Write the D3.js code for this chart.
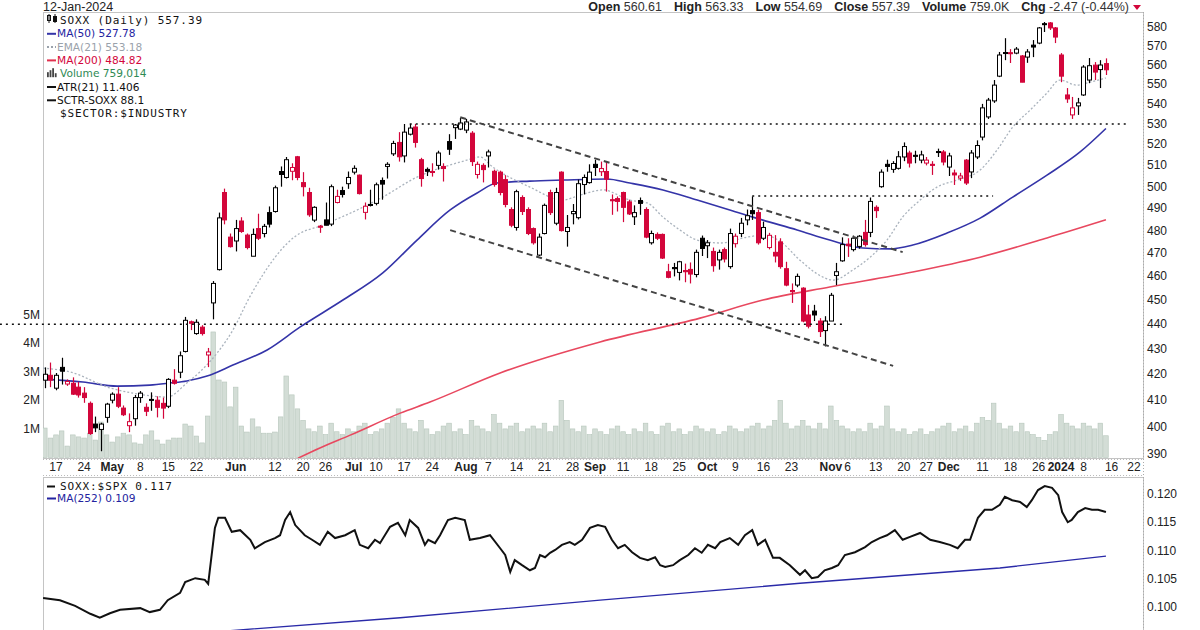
<!DOCTYPE html>
<html>
<head>
<meta charset="utf-8">
<script src="https://cdn.jsdelivr.net/npm/d3@7/dist/d3.min.js"></script>
<style>
body { margin: 0; background: #fff; }
svg { display: block; font-family: "Liberation Sans", Arial, sans-serif; }
.leg { font-family: "DejaVu Sans", Verdana, sans-serif; font-size: 10.6px; }
.mono { font-family: "DejaVu Sans Mono", monospace; font-size: 11px; letter-spacing: 0.9px; }
</style>
</head>
<body>
<svg id="chart" width="1200" height="630"></svg>
<script>
// SOXX daily candles, 13-Apr-2023 .. 12-Jan-2024 (one entry per trading day)
var opens = [417.7,419.6,414.6,422.7,416.2,416.5,415.0,412.7,408.8,401.0,399.0,403.5,
410.0,412.3,407.0,400.4,403.0,411.0,407.3,410.3,410.0,408.8,407.7,417.7,
420.8,429.0,441.0,436.2,438.8,427.6,448.8,462.9,497.3,477.1,475.4,484.3,
478.0,468.7,480.9,478.7,488.1,488.6,507.1,504.3,507.2,514.1,501.9,497.3,
484.7,482.0,484.8,482.9,492.7,498.2,501.4,506.8,505.4,488.2,491.8,492.3,
502.9,509.5,515.5,521.0,514.5,525.0,528.5,512.7,508.1,507.1,510.0,509.5,
521.4,528.2,527.5,527.0,525.5,505.7,510.0,514.5,507.2,506.8,503.3,489.5,
481.4,495.0,489.5,480.9,469.2,478.7,497.3,483.3,506.8,479.6,487.6,485.8,
501.0,501.9,510.5,507.0,507.1,494.0,494.5,497.3,493.0,486.2,493.6,489.5,
474.6,478.3,478.3,462.0,463.8,461.7,462.5,463.0,460.8,476.6,473.3,470.8,
467.1,471.6,464.2,474.2,478.7,484.8,489.0,488.1,476.6,472.5,470.4,475.0,
463.3,454.0,456.3,455.0,443.8,445.4,441.3,437.4,441.3,460.4,466.7,474.0,
471.6,473.0,479.2,479.2,490.5,500.0,510.5,508.1,508.6,514.0,515.9,514.8,
512.5,511.1,510.5,516.6,516.4,509.2,506.4,504.0,512.5,506.9,514.0,523.6,
533.5,541.5,554.1,566.4,566.3,566.1,564.6,564.0,570.3,571.4,581.8,582.2,
579.5,565.1,544.5,534.5,539.0,544.5,552.1,559.8,557.5,560.61];
var highs = [422.7,424.6,420.5,426.5,418.0,418.8,417.0,415.0,409.5,403.8,401.5,409.0,
413.0,415.0,408.0,405.0,412.0,413.5,408.8,413.0,411.5,411.0,418.5,422.0,
429.0,443.0,441.5,442.0,439.6,430.4,458.0,488.1,499.1,478.7,484.8,486.0,
478.7,480.9,487.6,483.0,490.9,500.5,509.5,514.0,511.0,514.5,506.8,499.5,
491.0,482.5,492.7,501.0,498.6,500.0,507.1,510.0,505.7,492.7,498.6,501.9,
504.3,511.5,521.8,526.0,530.0,530.0,530.0,513.6,509.0,511.0,517.0,511.0,
525.0,530.0,533.0,532.5,526.5,511.8,511.0,517.5,508.0,507.5,505.4,490.5,
498.6,496.0,490.5,481.4,478.7,492.2,498.6,499.5,507.2,487.0,492.0,503.3,
505.7,510.5,512.7,511.8,511.8,496.4,495.5,497.7,494.0,491.4,495.0,490.5,
480.0,479.2,478.7,465.4,465.8,466.7,465.5,466.0,471.6,477.8,475.8,472.5,
471.6,472.5,480.9,478.7,485.7,489.5,495.5,489.5,484.0,479.0,478.0,476.6,
466.3,457.0,461.2,455.4,448.0,448.0,442.5,443.3,453.0,465.8,477.0,476.6,
477.8,478.0,484.8,495.0,491.4,508.1,512.7,512.0,516.8,521.0,517.0,517.0,
517.0,514.0,512.0,518.0,517.3,516.0,508.0,506.5,513.0,517.3,522.0,540.0,
543.0,552.1,566.7,574.0,568.2,569.3,565.1,568.2,573.0,580.0,582.7,582.7,
580.0,566.1,548.0,543.5,543.0,559.8,563.5,561.4,562.4,563.33];
var lows = [414.6,415.0,413.8,416.0,415.5,412.0,411.0,409.0,397.0,398.0,391.0,401.5,
408.8,407.0,404.0,398.0,400.4,409.0,404.0,406.0,403.5,403.0,407.0,416.0,
418.5,428.6,437.6,435.7,435.4,422.8,442.0,462.5,482.8,472.5,470.8,479.0,
471.7,468.7,475.8,477.0,481.4,488.1,500.0,503.8,503.0,503.0,495.5,486.2,
483.8,479.0,482.4,482.0,492.3,495.0,499.0,505.7,496.4,485.0,490.9,491.4,
494.0,503.8,514.5,511.8,511.4,524.4,518.5,500.0,505.0,504.7,508.0,502.4,
515.0,522.7,527.0,525.5,509.7,503.8,502.0,509.0,500.0,496.0,490.5,481.5,
480.0,487.0,478.0,473.8,468.8,478.3,487.0,482.4,479.6,472.9,482.8,485.0,
496.4,501.4,505.0,505.0,497.7,487.1,488.6,483.8,487.0,482.5,487.1,476.6,
473.8,475.8,467.5,459.2,460.0,458.3,457.5,457.0,459.6,468.8,467.9,462.0,
462.9,466.0,463.3,472.5,477.1,482.4,484.8,473.8,475.8,471.7,466.0,463.3,
455.8,448.8,455.4,440.8,438.3,441.3,434.8,431.0,441.3,456.3,466.3,468.4,
470.8,472.0,472.9,477.1,485.7,499.5,507.0,506.5,508.0,512.0,509.0,511.0,
511.0,510.0,505.5,514.0,510.0,505.0,500.8,502.7,500.8,504.0,513.0,522.0,
532.5,540.5,553.6,562.4,560.9,565.5,551.0,561.0,564.0,570.8,577.3,578.4,
571.4,551.0,540.5,532.5,534.5,544.0,550.5,552.1,548.0,554.69];
var closes = [420.0,417.7,419.6,421.2,417.2,412.3,412.0,411.0,397.5,399.6,401.0,408.5,
412.3,407.7,404.5,401.9,411.0,412.7,405.8,410.0,407.3,407.0,418.0,416.5,
427.3,441.6,440.4,440.8,436.2,428.8,457.0,485.7,484.8,472.9,480.9,479.6,
472.5,478.3,476.6,481.9,482.9,499.5,505.7,512.7,509.0,504.3,500.0,487.1,
490.5,481.5,482.4,500.0,495.5,496.4,504.3,508.6,496.8,491.0,491.4,500.9,
501.2,510.5,520.5,514.1,526.0,528.0,521.0,503.8,507.2,506.9,515.9,508.5,
517.7,529.5,530.5,531.0,511.8,510.5,508.0,516.4,501.0,497.3,491.8,482.4,
497.7,488.6,478.7,474.6,477.1,491.4,488.1,497.3,480.0,481.4,488.6,501.4,
504.3,506.8,509.0,508.5,503.5,493.5,493.2,490.5,487.5,488.1,492.3,477.1,
478.7,476.6,467.9,459.6,463.3,466.3,462.0,461.0,470.4,472.1,474.6,464.6,
470.4,467.5,478.7,477.5,483.3,486.7,487.6,474.6,481.4,477.9,468.8,464.2,
456.3,453.5,460.0,441.3,439.2,443.8,437.0,441.3,452.0,462.0,473.8,473.3,
476.6,477.5,473.8,493.2,489.0,506.8,509.5,510.9,514.1,519.0,511.1,514.3,
515.0,512.5,510.0,516.2,511.6,514.5,505.5,505.0,501.7,515.9,519.5,538.0,
541.9,549.5,565.1,566.1,565.8,568.2,551.0,566.7,569.3,579.5,581.5,579.5,
574.6,554.1,542.5,538.0,540.5,558.8,559.5,556.2,559.86,557.39];
// volume in millions
var volumes = [1.03,0.68,0.79,0.93,0.40,0.79,0.72,0.68,0.85,0.61,1.24,0.79,0.54,0.72,0.85,0.79,
0.51,0.47,0.79,0.93,0.61,0.47,0.61,0.68,0.68,1.17,1.10,0.75,0.51,1.45,4.39,
2.71,2.64,1.77,2.46,1.10,0.89,1.35,1.07,0.85,0.85,0.89,1.42,2.85,2.19,1.70,
1.3,1.0,0.9,1.1,0.8,1.2,0.9,0.8,1.0,0.9,1.1,1.2,0.8,0.9,1.0,1.2,
1.4,1.7,1.2,1.0,0.9,1.3,1.0,0.8,0.9,1.1,1.2,0.9,1.0,0.8,1.3,1.1,
1.0,0.9,1.5,1.2,1.0,1.1,1.2,0.9,1.0,1.1,1.0,1.2,0.9,1.1,2.0,1.3,
1.0,0.9,1.1,0.8,1.0,0.9,0.8,1.0,1.1,0.9,0.8,1.0,0.9,1.2,0.9,0.8,
1.1,1.2,0.9,1.0,0.8,0.9,1.1,1.0,0.9,1.0,0.8,0.9,1.1,1.0,0.9,1.0,
1.1,1.2,1.0,1.1,1.3,2.0,1.2,1.0,1.1,1.3,1.1,1.0,1.2,1.0,1.8,1.3,
1.1,1.0,0.9,1.0,0.9,1.2,1.0,1.1,1.8,1.0,0.9,1.0,0.8,0.9,1.0,0.8,
0.9,1.0,1.1,1.2,0.9,1.0,1.1,0.9,1.2,1.4,1.3,1.9,1.2,1.0,1.1,0.9,
1.2,0.9,0.8,0.7,0.6,0.8,0.9,1.5,1.2,1.1,1.0,1.2,1.1,1.0,1.2,0.76];

// overlays: [day index, value]
var ma50 = [[-0.3,418.1],[6.8,417.0],[12.9,415.4],[18.7,415.8],[22.3,416.6],[25.3,417.4],[28.9,419.3],[33.5,423.6],[39.6,429.6],[45.5,438.9],[53.1,450.0],[60.2,461.5],[66.3,475.8],[72.2,489.3],[77.0,497.1],[80.5,501.7],[86.4,502.6],[92.3,503.1],[100.1,503.6],[104.2,501.7],[110.1,498.5],[116.2,493.8],[122.0,489.3],[127.9,484.7],[134.0,480.3],[139.8,475.8],[145.7,472.3],[150.5,471.9],[154.6,473.6],[160.7,478.9],[166.6,485.6],[172.4,495.2],[178.5,505.4],[184.4,516.4],[189,527.78]];
var ema21 = [[-0.3,422.4],[4.5,420.9],[11.6,414.7],[15.7,412.7],[21.8,411.2],[25.3,416.6],[27.6,420.9],[30.7,428.4],[33.5,437.6],[36.5,451.3],[45.5,478.9],[48.5,481.6],[56.7,490.6],[60.2,495.2],[66.3,504.5],[72.2,510.2],[75.2,512.5],[77.5,514.0],[79.8,509.2],[86.4,499.8],[92.3,493.8],[95.3,496.1],[99.4,498.5],[104.2,493.8],[107.3,492.5],[110.1,486.1],[113.1,480.3],[116.2,475.8],[120.3,474.5],[125.1,477.1],[127.9,478.0],[130.9,475.4],[134.5,467.0],[138.6,459.7],[140.4,458.4],[143.9,462.7],[147.0,468.3],[150.0,475.8],[152.8,486.1],[155.9,493.8],[158.9,499.8],[162.5,503.1],[166.6,507.8],[169.6,517.3],[172.4,528.5],[175.5,536.9],[178.5,545.5],[180.8,552.1],[183.8,549.5],[186.1,551.0],[189,553.18]];
var ma200 = [[45.1,388.5],[49.0,392.2],[54.4,396.9],[63.3,405.1],[68.6,409.3],[81.1,420.5],[98.9,432.8],[116.7,442.5],[127.9,450.0],[139.8,455.5],[154.6,461.9],[166.6,468.3],[178.5,476.7],[189,484.82]];
var ratio = [[-0.3,0.1016],[2.7,0.1012],[5.4,0.1002],[8.1,0.0988],[9.8,0.0981],[11.6,0.0989],[13.4,0.0995],[17.0,0.0998],[18.7,0.0991],[20.5,0.0995],[21.9,0.1012],[24.1,0.1025],[25.0,0.1044],[26.8,0.1051],[28.5,0.1048],[29.1,0.1041],[30.3,0.1140],[30.9,0.1158],[32.1,0.1158],[33.3,0.1133],[34.8,0.1136],[36.6,0.1119],[37.4,0.1104],[39.2,0.1115],[41.0,0.1122],[41.9,0.1127],[42.8,0.1154],[43.7,0.1168],[44.6,0.1145],[46.3,0.1127],[47.6,0.1119],[49.0,0.1110],[50.4,0.1133],[51.7,0.1122],[53.5,0.1127],[55.2,0.1136],[56.1,0.1110],[57.6,0.1104],[58.8,0.1119],[59.7,0.1113],[61.5,0.1142],[62.9,0.1149],[64.2,0.1127],[65.0,0.1154],[66.5,0.1140],[67.7,0.1110],[68.3,0.1119],[69.5,0.1113],[70.4,0.1127],[71.8,0.1154],[73.1,0.1158],[74.8,0.1154],[75.7,0.1119],[77.5,0.1122],[79.3,0.1127],[81.1,0.1104],[82.0,0.1092],[82.9,0.1062],[83.7,0.1083],[85.0,0.1074],[86.4,0.1065],[87.3,0.1069],[88.2,0.1092],[89.1,0.1088],[90.0,0.1096],[90.9,0.1101],[92.1,0.1110],[93.5,0.1115],[94.4,0.1110],[95.7,0.1119],[97.1,0.1140],[98.5,0.1145],[99.8,0.1142],[101.0,0.1119],[102.1,0.1104],[103.3,0.1110],[104.6,0.1097],[106.0,0.1087],[107.4,0.1083],[108.7,0.1088],[109.6,0.1074],[110.5,0.1071],[111.9,0.1074],[113.1,0.1083],[114.6,0.1092],[115.8,0.1104],[117.0,0.1096],[118.1,0.1110],[119.4,0.1104],[120.3,0.1115],[122.0,0.1122],[123.5,0.1110],[124.7,0.1127],[126.0,0.1136],[127.0,0.1110],[128.3,0.1119],[129.7,0.1087],[130.9,0.1087],[132.7,0.1074],[134.5,0.1057],[135.4,0.1065],[136.6,0.1051],[137.7,0.1053],[138.9,0.1065],[140.2,0.1069],[141.3,0.1074],[142.5,0.1092],[144.3,0.1097],[146.1,0.1106],[147.3,0.1115],[148.7,0.1122],[150.0,0.1127],[151.4,0.1136],[152.8,0.1119],[154.1,0.1124],[155.9,0.1131],[157.7,0.1119],[159.4,0.1115],[161.2,0.1110],[162.6,0.1104],[163.9,0.1119],[164.8,0.1119],[166.2,0.1158],[167.4,0.1172],[168.7,0.1172],[170.1,0.1181],[171.0,0.1195],[172.3,0.1189],[173.7,0.1186],[174.9,0.1177],[175.8,0.1189],[176.9,0.1207],[178.1,0.1214],[179.4,0.1211],[180.5,0.1198],[181.2,0.1168],[182.2,0.1150],[182.9,0.1154],[184.0,0.1168],[185.3,0.1175],[186.5,0.1172],[187.6,0.1172],[189,0.1168]];
var ratioMa = [[27.6,0.0954],[63.3,0.0981],[98.9,0.1012],[134.5,0.1042],[170.1,0.1069],[189,0.1090]];

// hand-drawn annotations
var levelLines = [[[-8, 440], [142.2, 440]], [[65, 530], [192.7, 530]], [[126, 495.7], [168.9, 495.7]]];
var channelLines = [[[74, 533.3], [152.8, 470.5]], [[72.2, 480.2], [151.1, 423.3]]];

var priceTicks = [390,400,410,420,430,440,450,460,470,480,490,500,510,520,530,540,550,560,570,580];
var volTicks = [1,2,3,4,5];
var ratioTicks = [0.100,0.105,0.110,0.115,0.120];
var holidays = ["2023-05-29","2023-06-19","2023-07-04","2023-09-04","2023-11-23","2023-12-25","2024-01-01","2024-01-15"];
var tickDates = ["2023-04-17","2023-04-24","2023-05-01","2023-05-08","2023-05-15","2023-05-22","2023-06-01","2023-06-12","2023-06-20","2023-06-26","2023-07-03","2023-07-10","2023-07-17","2023-07-24","2023-08-01","2023-08-07","2023-08-14","2023-08-21","2023-08-28","2023-09-01","2023-09-11","2023-09-18","2023-09-25","2023-10-02","2023-10-09","2023-10-16","2023-10-23","2023-11-01","2023-11-06","2023-11-13","2023-11-20","2023-11-27","2023-12-01","2023-12-11","2023-12-18","2023-12-26","2024-01-02","2024-01-08","2024-01-16","2024-01-22"];
var tickLabels = ["17","24","May","8","15","22","Jun","12","20","26","Jul","10","17","24","Aug","7","14","21","28","Sep","11","18","25","Oct","9","16","23","Nov","6","13","20","27","Dec","11","18","26","2024","8","16","22"];

// trading calendar for the x axis
var days = [];
for (var d = new Date(Date.UTC(2023, 3, 13)); d <= new Date(Date.UTC(2024, 0, 22)); d.setUTCDate(d.getUTCDate() + 1)) {
    var s = d.toISOString().slice(0, 10);
    if (d.getUTCDay() > 0 && d.getUTCDay() < 6 && holidays.indexOf(s) < 0) days.push(s);
}

var L = 43, R = 1143, mainTop = 12, mainBot = 458, lowTop = 477;
var red = '#d3063b', blue = '#3434a8';
var svg = d3.select('#chart');
var x = d3.scaleLinear().domain([-0.32, 195.6]).range([L, R]);
var yP = d3.scaleLog().domain([390, 580]).range([454, 27]);
var yV = d3.scaleLinear().domain([0, 5]).range([457.5, 314.5]);
var yR = d3.scaleLinear().domain([0.100, 0.120]).range([607, 494]);

var defs = svg.append('defs');
defs.append('clipPath').attr('id', 'cMain').append('rect').attr('x', L).attr('y', mainTop).attr('width', R - L).attr('height', mainBot - mainTop);
defs.append('clipPath').attr('id', 'cLow').append('rect').attr('x', L).attr('y', lowTop).attr('width', R - L).attr('height', 170);

// panel frames
svg.append('rect').attr('x', L + 0.5).attr('y', mainTop + 0.5).attr('width', R - L).attr('height', mainBot - mainTop).attr('fill', 'none').attr('stroke', '#c4c4c4');
svg.append('rect').attr('x', L + 0.5).attr('y', lowTop + 0.5).attr('width', R - L).attr('height', 200).attr('fill', 'none').attr('stroke', '#c4c4c4');
svg.append('line').attr('x1', R + 0.5).attr('x2', R + 0.5).attr('y1', mainTop).attr('y2', 630).attr('stroke', '#aaa').attr('stroke-dasharray', '1,2');
svg.append('line').attr('x1', L).attr('x2', R).attr('y1', mainBot + 1.5).attr('y2', mainBot + 1.5).attr('stroke', '#bbb').attr('stroke-dasharray', '1,2');
svg.append('line').attr('x1', L).attr('x2', R).attr('y1', lowTop - 1.5).attr('y2', lowTop - 1.5).attr('stroke', '#bbb').attr('stroke-dasharray', '1,2');

var main = svg.append('g').attr('clip-path', 'url(#cMain)');

// volume
main.selectAll('rect.vol').data(volumes).enter().append('rect')
    .attr('x', function(v, k) { return x(k) - 2.3; })
    .attr('y', function(v) { return yV(v); })
    .attr('width', 4.6)
    .attr('height', function(v) { return yV(0) - yV(v); })
    .attr('fill', '#d3ddd6').attr('stroke', '#b6c6bb').attr('stroke-width', 0.6);

var priceLine = d3.line().x(function(p) { return x(p[0]); }).y(function(p) { return yP(p[1]); }).curve(d3.curveMonotoneX);
main.append('path').attr('d', priceLine(ma200)).attr('fill', 'none').attr('stroke', '#e8485f').attr('stroke-width', 1.6);
main.append('path').attr('d', priceLine(ma50)).attr('fill', 'none').attr('stroke', blue).attr('stroke-width', 1.6);
main.append('path').attr('d', priceLine(ema21)).attr('fill', 'none').attr('stroke', '#aab3bd').attr('stroke-width', 1.3).attr('stroke-dasharray', '2,2');

// candles
var candles = closes.map(function(c, k) {
    return { k: k, o: opens[k], h: highs[k], l: lows[k], c: c, prev: k ? closes[k - 1] : opens[k] };
});
function col(d) { return d.c >= d.prev ? '#000' : red; }
var cg = main.append('g');
cg.selectAll('line').data(candles).enter().append('line')
    .attr('x1', function(d) { return Math.round(x(d.k)) + 0.5; })
    .attr('x2', function(d) { return Math.round(x(d.k)) + 0.5; })
    .attr('y1', function(d) { return yP(d.h); })
    .attr('y2', function(d) { return yP(d.l); })
    .attr('stroke', col).attr('stroke-width', 1.2);
cg.selectAll('rect').data(candles).enter().append('rect')
    .attr('x', function(d) { return Math.round(x(d.k)) - 1.5; })
    .attr('y', function(d) { return yP(Math.max(d.o, d.c)); })
    .attr('width', 4)
    .attr('height', function(d) { return Math.max(1, yP(Math.min(d.o, d.c)) - yP(Math.max(d.o, d.c))); })
    .attr('fill', function(d) { return d.c >= d.o ? '#fff' : col(d); })
    .attr('stroke', col).attr('stroke-width', 1);

// annotations
var annLine = d3.line().x(function(p) { return x(p[0]); }).y(function(p) { return yP(p[1]); });
svg.selectAll('path.lvl').data(levelLines).enter().append('path')
    .attr('d', annLine).attr('fill', 'none').attr('stroke', '#111').attr('stroke-width', 1.5).attr('stroke-dasharray', '2,4');
svg.selectAll('path.chn').data(channelLines).enter().append('path')
    .attr('d', annLine).attr('fill', 'none').attr('stroke', '#444').attr('stroke-width', 2).attr('stroke-dasharray', '6,4');

// price axis
svg.selectAll('text.pt').data(priceTicks).enter().append('text')
    .attr('x', R + 4).attr('y', function(v) { return yP(v) + 4; })
    .attr('font-size', 12).attr('fill', '#222').text(function(v) { return v; });
svg.selectAll('text.vt').data(volTicks).enter().append('text')
    .attr('x', 40).attr('y', function(v) { return yV(v) + 4; }).attr('text-anchor', 'end')
    .attr('font-size', 12).attr('fill', '#222').text(function(v) { return v + 'M'; });

// date axis
svg.selectAll('text.dt').data(tickDates).enter().append('text')
    .attr('x', function(s) { return x(days.indexOf(s)); })
    .attr('y', 471).attr('text-anchor', 'middle').attr('font-size', 12).attr('fill', '#222')
    .attr('font-weight', function(s, i) { return /^\d{1,2}$/.test(tickLabels[i]) ? 'normal' : 'bold'; })
    .text(function(s, i) { return tickLabels[i]; });

// lower panel
var low = svg.append('g').attr('clip-path', 'url(#cLow)');
var ratioLine = d3.line().x(function(p) { return x(p[0]); }).y(function(p) { return yR(p[1]); });
low.append('path').attr('d', ratioLine(ratioMa)).attr('fill', 'none').attr('stroke', '#2a2aa8').attr('stroke-width', 1.3);
low.append('path').attr('d', ratioLine(ratio)).attr('fill', 'none').attr('stroke', '#111').attr('stroke-width', 2);
svg.selectAll('text.rt').data(ratioTicks).enter().append('text')
    .attr('x', R + 4).attr('y', function(v) { return yR(v) + 4; })
    .attr('font-size', 12).attr('fill', '#222').text(function(v) { return v.toFixed(3); });

// header
svg.append('text').attr('x', L).attr('y', 11).attr('font-size', 12.5).attr('fill', '#222').text('12-Jan-2024');
var hdr = svg.append('text').attr('x', 1129).attr('y', 11).attr('text-anchor', 'end').attr('font-size', 12.5).attr('fill', '#222');
[['Open', ' 560.61'], ['High', ' 563.33'], ['Low', ' 554.69'], ['Close', ' 557.39'], ['Volume', ' 759.0K'], ['Chg', ' -2.47 (-0.44%)']].forEach(function(p, i) {
    hdr.append('tspan').attr('font-weight', 'bold').attr('dx', i ? 12 : 0).text(p[0]);
    hdr.append('tspan').attr('fill', '#333').text(p[1]);
});
svg.append('path').attr('d', 'M1133,5L1141,5L1137,10Z').attr('fill', red);

// legends
var leg = svg.append('g').attr('class', 'leg');
var legRows = [
    { t: 'SOXX (Daily) 557.39', c: '#111', icon: 'candle', mono: true },
    { t: 'MA(50) 527.78', c: '#2323a0', icon: 'line', ic: blue },
    { t: 'EMA(21) 553.18', c: '#9aa2ab', icon: 'dots', ic: '#9aa2ab' },
    { t: 'MA(200) 484.82', c: '#d3063b', icon: 'line', ic: '#e0304e' },
    { t: 'Volume 759,014', c: '#2f8a55', icon: 'bars' },
    { t: 'ATR(21) 11.406', c: '#111', icon: 'line', ic: '#111' },
    { t: 'SCTR-SOXX 88.1', c: '#111', icon: 'line', ic: '#111' },
    { t: '$SECTOR:$INDUSTRY', c: '#111', icon: null, mono: true }
];
legRows.forEach(function(r, i) {
    var y = 24 + i * 13.3;
    var tx = r.icon === 'line' || r.icon === 'dots' ? 57 : 60;
    leg.append('text').attr('x', tx).attr('y', y).attr('fill', r.c).attr('class', r.mono ? 'mono' : null).text(r.t);
    if (r.icon === 'line') leg.append('line').attr('x1', 47).attr('x2', 56).attr('y1', y - 3.5).attr('y2', y - 3.5).attr('stroke', r.ic).attr('stroke-width', 2);
    if (r.icon === 'dots') leg.append('line').attr('x1', 47).attr('x2', 56).attr('y1', y - 3.5).attr('y2', y - 3.5).attr('stroke', r.ic).attr('stroke-width', 2).attr('stroke-dasharray', '2,2');
    if (r.icon === 'candle') {
        leg.append('rect').attr('x', 47.5).attr('y', y - 8.5).attr('width', 3).attr('height', 5).attr('fill', '#fff').attr('stroke', '#111');
        leg.append('rect').attr('x', 53.5).attr('y', y - 7.5).attr('width', 3).attr('height', 5).attr('fill', '#111').attr('stroke', '#111');
        leg.append('line').attr('x1', 49).attr('x2', 49).attr('y1', y - 10).attr('y2', y - 1).attr('stroke', '#111');
        leg.append('line').attr('x1', 55).attr('x2', 55).attr('y1', y - 10).attr('y2', y - 1).attr('stroke', '#111');
    }
    if (r.icon === 'bars') {
        [5, 7, 9, 4].forEach(function(h, j) {
            leg.append('rect').attr('x', 47 + j * 2.6).attr('y', y - h).attr('width', 1.8).attr('height', h).attr('fill', '#444');
        });
    }
});
leg.append('line').attr('x1', 47).attr('x2', 55).attr('y1', 486.5).attr('y2', 486.5).attr('stroke', '#111').attr('stroke-width', 2);
leg.append('text').attr('x', 60).attr('y', 490).attr('fill', '#111').attr('class', 'mono').text('SOXX:$SPX 0.117');
leg.append('line').attr('x1', 47).attr('x2', 56).attr('y1', 498.5).attr('y2', 498.5).attr('stroke', '#2323a0').attr('stroke-width', 2);
leg.append('text').attr('x', 57).attr('y', 502).attr('fill', '#2323a0').text('MA(252) 0.109');
</script>
</body>
</html>
